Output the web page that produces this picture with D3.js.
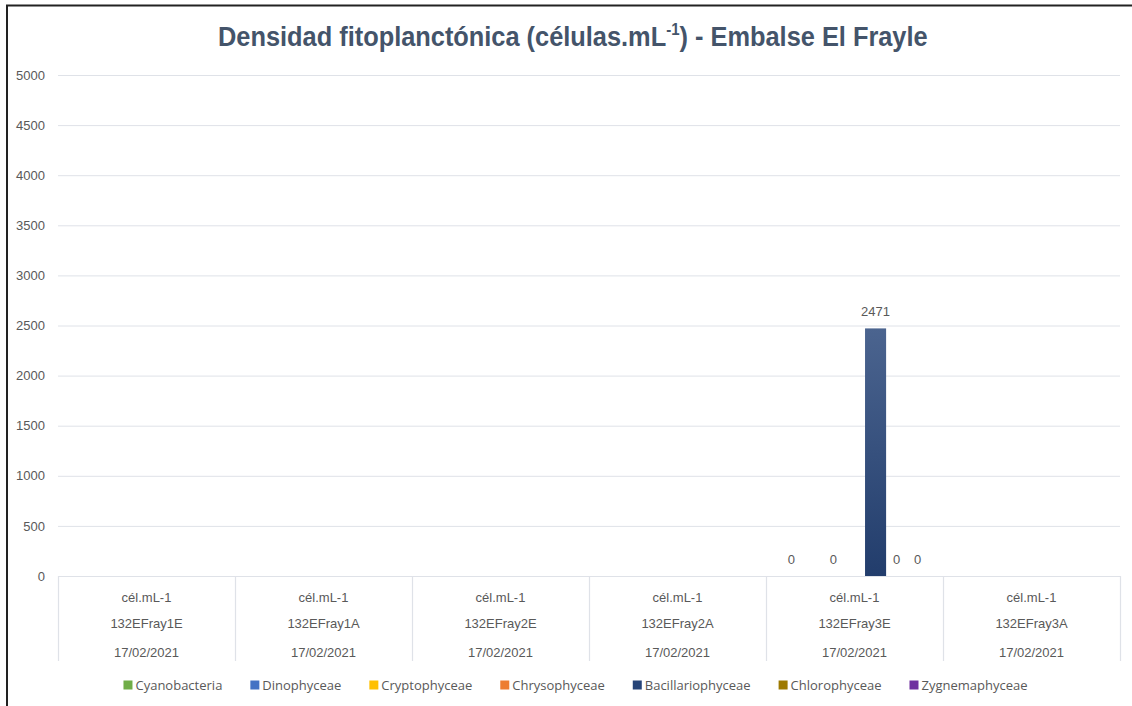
<!DOCTYPE html>
<html>
<head>
<meta charset="utf-8">
<script src="https://cdn.jsdelivr.net/npm/d3@7"></script>
<style>
  html, body { margin: 0; padding: 0; background: #fff; }
  svg { display: block; }
</style>
</head>
<body>
<svg id="chart" width="1132" height="706"></svg>
<script>
// ---- data ----
const categories = ["132EFray1E", "132EFray1A", "132EFray2E", "132EFray2A", "132EFray3E", "132EFray3A"];
const unitLabel = "cél.mL-1";
const dateLabel = "17/02/2021";
const seriesNames = ["Cyanobacteria", "Dinophyceae", "Cryptophyceae", "Chrysophyceae", "Bacillariophyceae", "Chlorophyceae", "Zygnemaphyceae"];
const seriesColors = ["#70AD47", "#4472C4", "#FFC000", "#ED7D31", "#264478", "#9E7A00", "#7030A0"];
// values per series, one entry per category (null = no data)
const cyanobacteria     = [null, null, null, null, 0, null];
const dinophyceae       = [null, null, null, null, null, null];
const cryptophyceae     = [null, null, null, null, 0, null];
const chrysophyceae     = [null, null, null, null, null, null];
const bacillariophyceae = [null, null, null, null, 2471, null];
const chlorophyceae     = [null, null, null, null, 0, null];
const zygnemaphyceae    = [null, null, null, null, 0, null];
const yTicks = [0, 500, 1000, 1500, 2000, 2500, 3000, 3500, 4000, 4500, 5000];

const seriesValues = [cyanobacteria, dinophyceae, cryptophyceae, chrysophyceae, bacillariophyceae, chlorophyceae, zygnemaphyceae];

// ---- layout ----
const svg = d3.select("#chart");
const plotL = 58, plotR = 1120, plotT = 75, plotB = 576;
const textColor = "#595959";
const gridColor = "#dfe2e8";
const fs = 13;

const x0 = d3.scaleBand().domain(categories).range([plotL, plotR]).padding(0);
const x1 = d3.scaleBand().domain(seriesNames).range([0, x0.bandwidth()]).paddingInner(0).paddingOuter(0.7);
const y = d3.scaleLinear().domain([0, 5000]).range([plotB, plotT]);

// frame
svg.append("path").attr("d", "M7,706 V5.5 H1132").attr("fill", "none").attr("stroke", "#222").attr("stroke-width", 2);

// gradient for bars
const defs = svg.append("defs");
seriesColors.forEach((c, i) => {
  const g = defs.append("linearGradient").attr("id", "grad" + i).attr("x1", 0).attr("y1", 0).attr("x2", 0).attr("y2", 1);
  const top = d3.interpolateRgb(c, "#ffffff")(0.17);
  g.append("stop").attr("offset", "0%").attr("stop-color", top);
  g.append("stop").attr("offset", "100%").attr("stop-color", d3.color(c).darker(0.3));
});

// title
const title = svg.append("text")
  .attr("x", 0).attr("y", 46)
  .attr("font-family", "'Liberation Sans Narrow', 'Arial Narrow', 'Liberation Sans', Arial, sans-serif")
  .attr("font-weight", "bold").attr("font-size", 27)
  .attr("fill", "#44546A");
title.append("tspan").text("Densidad fitoplanctónica (células.mL");
title.append("tspan").attr("font-size", 16).attr("dy", -11).text("-1");
title.append("tspan").attr("dy", 11).text(") - Embalse El Frayle");
{
  const w = title.node().getComputedTextLength();
  const target = 710, left = 218;
  title.attr("transform", `translate(${left},0) scale(${target / w},1)`);
}

// y gridlines + labels
const yAxis = d3.axisLeft(y).tickValues(yTicks).tickFormat(d3.format("d")).tickSize(-(plotR - plotL)).tickPadding(13);
const gy = svg.append("g").attr("transform", `translate(${plotL},0)`).call(yAxis);
gy.select(".domain").remove();
gy.selectAll(".tick line").attr("stroke", gridColor).attr("stroke-width", 1);
gy.selectAll(".tick text")
  .attr("font-family", "'Liberation Sans', Arial, sans-serif").attr("font-size", fs)
  .attr("fill", textColor).attr("dy", "0.32em");

// x axis baseline and category dividers
svg.append("line").attr("x1", plotL).attr("x2", plotR).attr("y1", plotB + 0.5).attr("y2", plotB + 0.5)
  .attr("stroke", gridColor).attr("stroke-width", 1.2);
const dividers = categories.map(c => x0(c)).concat([plotR]);
svg.selectAll("line.div").data(dividers).join("line").attr("class", "div")
  .attr("x1", d => Math.round(d) + 0.5).attr("x2", d => Math.round(d) + 0.5)
  .attr("y1", plotB).attr("y2", 661)
  .attr("stroke", gridColor).attr("stroke-width", 1.2);

const catG = svg.selectAll("g.cat").data(categories).join("g").attr("class", "cat")
  .attr("transform", d => `translate(${x0(d) + x0.bandwidth() / 2},0)`)
  .attr("font-family", "'Liberation Sans', Arial, sans-serif").attr("font-size", fs)
  .attr("fill", textColor).attr("text-anchor", "middle");
catG.append("text").attr("y", 602).text(unitLabel);
catG.append("text").attr("y", 628).text(d => d);
catG.append("text").attr("y", 657).text(dateLabel);

// bars
const barData = [];
seriesValues.forEach((vals, si) => {
  vals.forEach((v, ci) => {
    if (v !== null) barData.push({ cat: categories[ci], series: seriesNames[si], si, v });
  });
});
svg.selectAll("rect.bar").data(barData).join("rect").attr("class", "bar")
  .attr("x", d => x0(d.cat) + x1(d.series))
  .attr("width", x1.bandwidth())
  .attr("y", d => y(d.v))
  .attr("height", d => y(0) - y(d.v))
  .attr("fill", d => `url(#grad${d.si})`);

svg.selectAll("text.lbl").data(barData).join("text").attr("class", "lbl")
  .attr("x", d => x0(d.cat) + x1(d.series) + x1.bandwidth() / 2)
  .attr("y", d => y(d.v) - 12)
  .attr("text-anchor", "middle")
  .attr("font-family", "'Liberation Sans', Arial, sans-serif").attr("font-size", fs)
  .attr("fill", textColor)
  .text(d => d.v);

// legend
const legend = svg.append("g").attr("font-family", "'Open Sans', 'Noto Sans', sans-serif").attr("font-size", 13).attr("fill", textColor);
const items = legend.selectAll("g").data(seriesNames).join("g");
items.append("rect").attr("width", 9).attr("height", 9).attr("y", -4.5).attr("fill", (d, i) => seriesColors[i]);
items.append("text").attr("x", 12).attr("dy", "0.35em").text(d => d);
let widths = [];
items.each(function() { widths.push(this.getBBox().width); });
const gap = 28;
const total = d3.sum(widths) + gap * (widths.length - 1);
let cx = 575.5 - total / 2;
items.attr("transform", (d, i) => { const t = `translate(${cx},685)`; cx += widths[i] + gap; return t; });
</script>
</body>
</html>
